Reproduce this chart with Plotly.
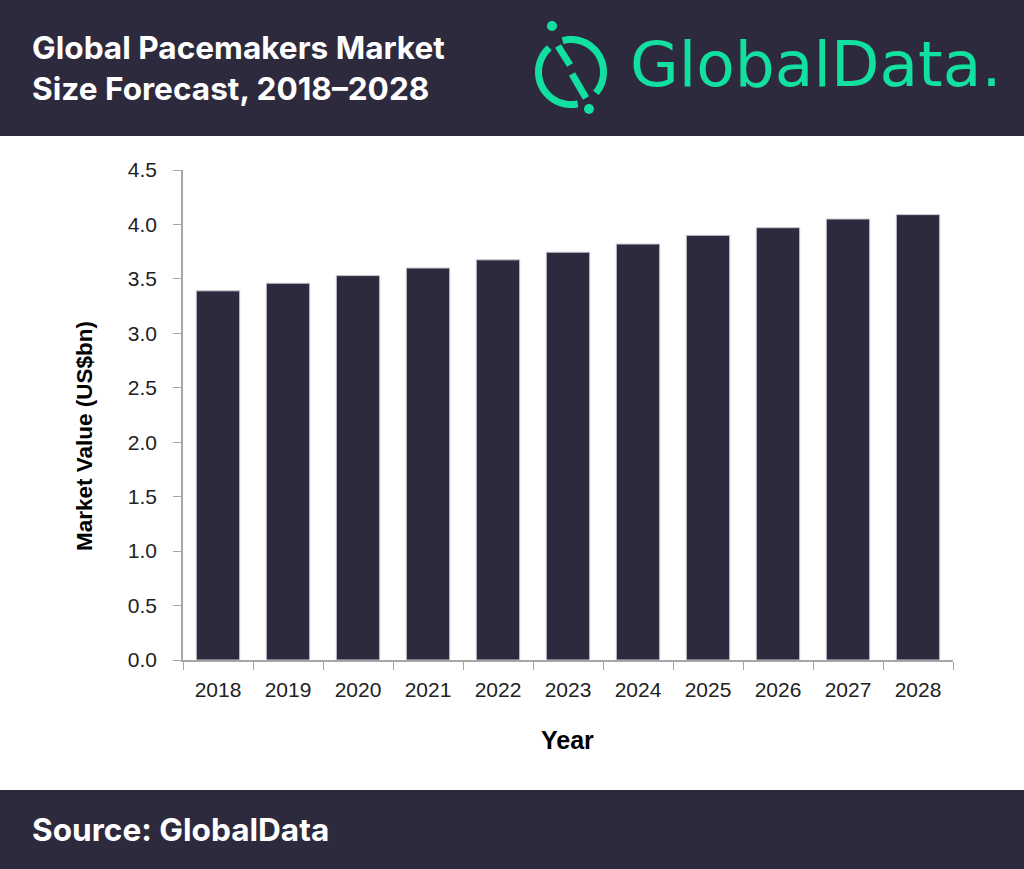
import math

import plotly.graph_objects as go

years = ["2018", "2019", "2020", "2021", "2022", "2023", "2024", "2025", "2026", "2027", "2028"]
market_value = [3.39, 3.46, 3.53, 3.60, 3.675, 3.745, 3.82, 3.90, 3.97, 4.05, 4.09]
y_ticks = [0.0, 0.5, 1.0, 1.5, 2.0, 2.5, 3.0, 3.5, 4.0, 4.5]
y_tick_labels = ["0.0", "0.5", "1.0", "1.5", "2.0", "2.5", "3.0", "3.5", "4.0", "4.5"]

title_text = "Global Pacemakers Market<br>Size Forecast, 2018\u20132028"
source_text = "Source: GlobalData"
x_title = "Year"
y_title = "Market Value (US$bn)"

W, H = 1024, 869
L, R, T, B = 183, 953, 170, 660  # plot area in pixels
DARK = "#2e2a3e"
GREEN = "#12e0a0"


def px(x):
    """pixel x -> paper x"""
    return (x - L) / (R - L)


def py(y):
    """pixel y (from top) -> paper y"""
    return (B - y) / (B - T)


def arc_path(r, a0, a1, n=40):
    """polyline arc in pixels (y up), angles in degrees"""
    pts = []
    for i in range(n + 1):
        a = math.radians(a0 + (a1 - a0) * i / n)
        pts.append(f"{r * math.cos(a):.2f},{r * math.sin(a):.2f}")
    return "M " + " L ".join(pts)


fig = go.Figure()

fig.add_trace(go.Bar(
    x=years,
    y=market_value,
    marker=dict(color=DARK, line=dict(color="#c8c5d2", width=1)),
    hovertemplate="%{x}: %{y:.2f}<extra></extra>",
))

# header and footer bands
fig.add_shape(type="rect", xref="paper", yref="paper", layer="below",
              x0=px(0), x1=px(W), y0=py(136), y1=py(0),
              fillcolor=DARK, line=dict(width=0))
fig.add_shape(type="rect", xref="paper", yref="paper", layer="below",
              x0=px(0), x1=px(W), y0=py(H), y1=py(790),
              fillcolor=DARK, line=dict(width=0))

# logo icon, drawn in pixels around its centre
icon = dict(xref="paper", yref="paper", xsizemode="pixel", ysizemode="pixel",
            xanchor=px(571), yanchor=py(72))
line_style = dict(color=GREEN, width=7)
fig.add_shape(type="path", path=arc_path(32.5, 105, -40), line=line_style, **icon)
fig.add_shape(type="path", path=arc_path(32.5, -78, -228), line=line_style, **icon)
fig.add_shape(type="path", path="M -13,26 L -1,7", line=line_style, **icon)
fig.add_shape(type="path", path="M 1,-2 L 15,-26", line=line_style, **icon)
fig.add_shape(type="circle", x0=-24, x1=-14, y0=41, y1=51,
              fillcolor=GREEN, line=dict(width=0), **icon)
fig.add_shape(type="circle", x0=13, x1=23, y0=-42, y1=-32,
              fillcolor=GREEN, line=dict(width=0), **icon)

annotations = [
    dict(text=title_text, x=px(30), y=py(68), xanchor="left", yanchor="middle",
         align="left", font=dict(family="Inter", size=31.6, color="white", weight="bold")),
    dict(text="GlobalData.", x=px(628), y=py(64), xanchor="left", yanchor="middle",
         font=dict(family="DejaVu Sans", size=63, color=GREEN)),
    dict(text=source_text, x=px(30), y=py(829), xanchor="left", yanchor="middle",
         font=dict(family="Inter", size=31.6, color="white", weight="bold")),
    dict(text=x_title, x=px(567), y=py(740), xanchor="center", yanchor="middle",
         font=dict(size=25, color="black", weight="bold")),
    dict(text=y_title, x=px(84), y=py(436), xanchor="center", yanchor="middle",
         textangle=-90, font=dict(size=22.5, color="black", weight="bold")),
]
for a in annotations:
    a.update(xref="paper", yref="paper", showarrow=False)

fig.update_layout(
    width=W,
    height=H,
    margin=dict(l=L, r=W - R, t=T, b=H - B),
    paper_bgcolor="white",
    plot_bgcolor="white",
    showlegend=False,
    bargap=0.38,
    annotations=annotations,
    font=dict(family="Liberation Sans, Arial, sans-serif", color="#222"),
    xaxis=dict(
        tickfont=dict(size=21, color="#222"),
        showline=True, linecolor="#a6a6a6", linewidth=1.5,
        ticks="outside", tickson="boundaries", ticklen=8, tickcolor="#a6a6a6",
        ticklabelstandoff=10,
        showgrid=False,
    ),
    yaxis=dict(
        range=[0, 4.5],
        tickvals=y_ticks,
        ticktext=y_tick_labels,
        tickfont=dict(size=21, color="#222"),
        showline=True, linecolor="#a6a6a6", linewidth=1.5,
        ticks="outside", ticklen=8, tickcolor="#a6a6a6",
        ticklabelstandoff=12,
        showgrid=False, zeroline=False,
    ),
)

fig.write_html("out.html", config={"displayModeBar": False},
               post_script="document.body.style.margin='0';")
